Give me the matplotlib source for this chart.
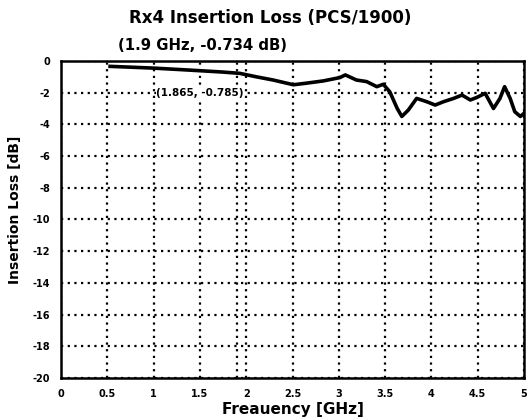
import matplotlib.pyplot as plt
import numpy as np

# 曲線數據
freq_ghz = [0.53, 0.75, 1.0, 1.25, 1.52, 1.75, 1.93, 2.11, 2.29, 2.51, 2.65,
            2.83, 3.01, 3.07, 3.19, 3.30, 3.41, 3.48, 3.55, 3.63, 3.68, 3.75,
            3.84, 3.95, 4.04, 4.13, 4.24, 4.33, 4.42, 4.49, 4.58, 4.67, 4.74,
            4.79, 4.85, 4.90, 4.96, 5.0]
loss_db = [-0.34, -0.39, -0.45, -0.53, -0.62, -0.70, -0.78, -1.0, -1.2, -1.5, -1.4,
           -1.26, -1.05, -0.88, -1.2, -1.3, -1.62, -1.47, -1.94, -2.99, -3.5, -3.1,
           -2.36, -2.57, -2.78, -2.57, -2.36, -2.15, -2.46, -2.3, -2.04, -3.0, -2.36,
           -1.62, -2.36, -3.2, -3.5, -3.3]

x_ticks = [0, 0.5, 1, 1.5, 2, 2.5, 3, 3.5, 4, 4.5, 5]
x_tick_labels = ["0", "0.5", "1", "1.5", "2", "2.5", "3", "3.5", "4", "4.5", "5"]
y_ticks = [0, -2, -4, -6, -8, -10, -12, -14, -16, -18, -20]

marker_freq = 1.9
marker_text = "(1.865, -0.785)"
marker_title = "(1.9 GHz, -0.734 dB)"

plt.rcParams["font.family"] = ["DejaVu Sans"]
plt.rcParams["font.weight"] = "bold"

fig = plt.figure(figsize=(5.31, 4.20), dpi=100)
ax = fig.add_axes([0.1149, 0.1, 0.872, 0.7548])

ax.plot(freq_ghz, loss_db, color="black", linewidth=2.6)

# 標記線
ax.axvline(marker_freq, color="black", linestyle=(0, (1, 2)), linewidth=1.6)
ax.text(1.03, -2.0, marker_text, fontsize=7.5, fontweight="bold",
        va="center", ha="left",
        bbox=dict(facecolor="white", edgecolor="none", pad=0.3))

ax.set_xlim(0, 5)
ax.set_ylim(-20, 0)
ax.set_xticks(x_ticks)
ax.set_xticklabels(x_tick_labels, fontsize=7, fontweight="bold")
ax.set_yticks(y_ticks)
ax.set_yticklabels([str(v) for v in y_ticks], fontsize=7, fontweight="bold")
ax.tick_params(length=0, pad=8)

ax.grid(True, color="black", linestyle=(0, (1, 2)), linewidth=1.6)
for s in ax.spines.values():
    s.set_linewidth(1.8)

ax.set_xlabel("Freauency [GHz]", fontsize=11, fontweight="bold", labelpad=2)
ax.set_ylabel("Insertion Loss [dB]", fontsize=10, fontweight="bold", labelpad=6)
ax.yaxis.set_label_coords(-0.085, 0.53)

fig.text(270 / 531, 1 - 18 / 420, "Rx4 Insertion Loss (PCS/1900)",
         fontsize=12, fontweight="bold", ha="center", va="center")
fig.text(203 / 531, 1 - 45 / 420, marker_title,
         fontsize=10.7, fontweight="bold", ha="center", va="center")

fig.savefig("out.png", dpi=100)
